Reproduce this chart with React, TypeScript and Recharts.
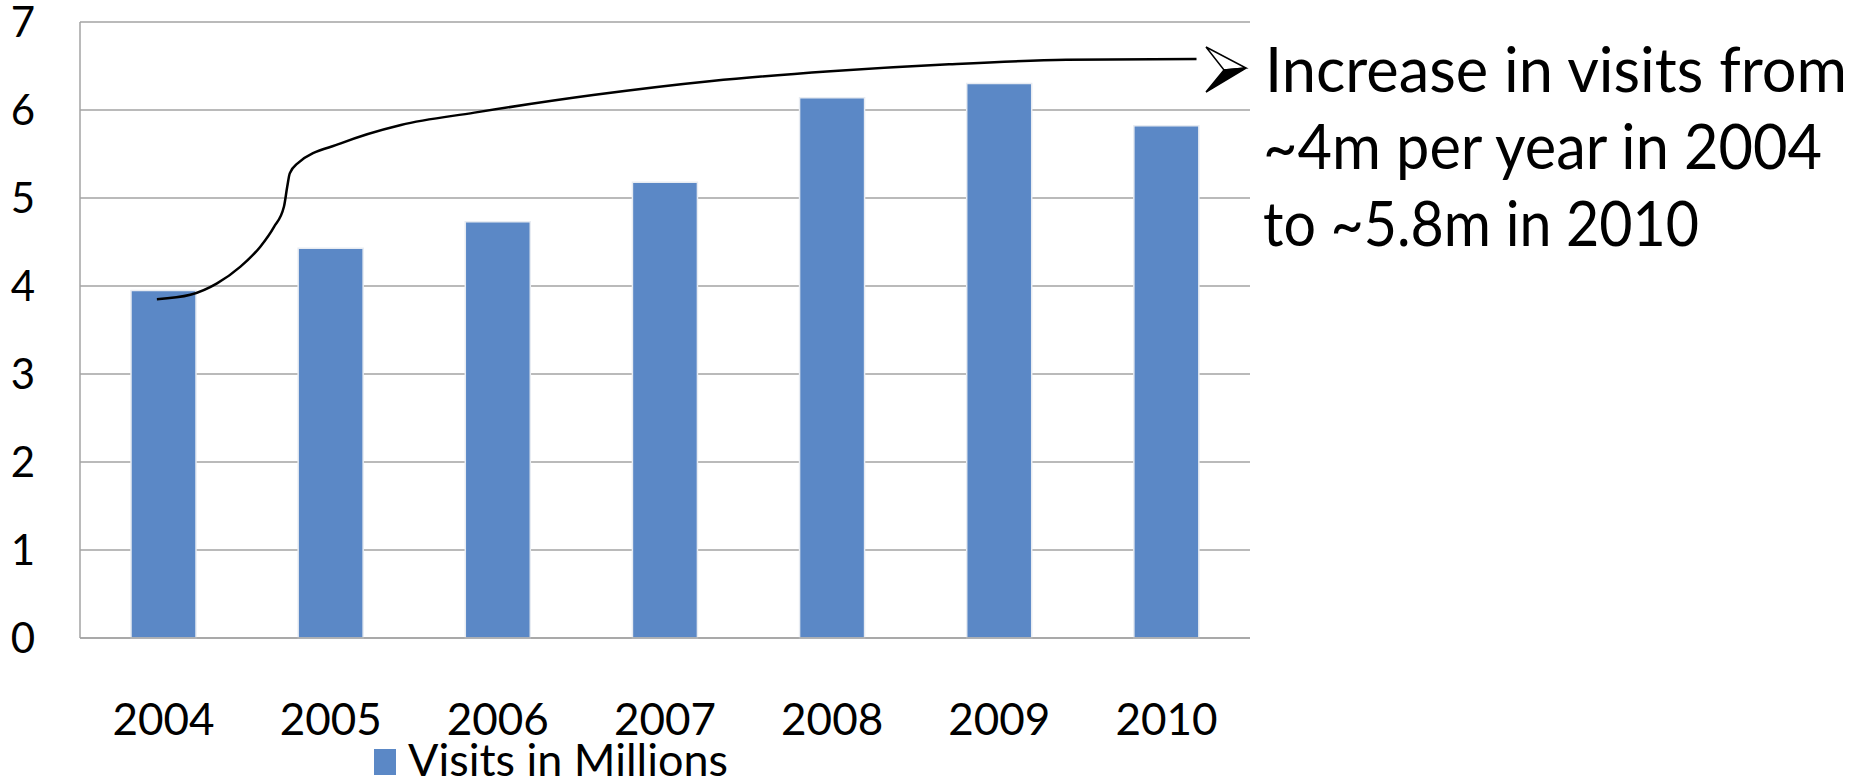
import { Bar, CartesianGrid, ComposedChart, Legend, Line, XAxis, YAxis } from "recharts";

const years = ["2004", "2005", "2006", "2007", "2008", "2009", "2010"];
const visitsInMillions = [3.95, 4.43, 4.73, 5.18, 6.14, 6.3, 5.82];
const yTicks = [0, 1, 2, 3, 4, 5, 6, 7];

// hand-drawn callout curve (x in category units, y in millions)
const calloutX = [0.46, 0.66, 0.82, 0.96, 1.08, 1.16, 1.22, 1.24, 1.255, 1.3, 1.56, 1.92, 2.36, 3.07, 3.78, 4.49, 5.2, 5.9, 6.68];
const calloutY = [3.85, 3.9, 4.03, 4.22, 4.45, 4.67, 4.9, 5.13, 5.28, 5.39, 5.62, 5.83, 5.97, 6.17, 6.33, 6.44, 6.52, 6.57, 6.58];

const calloutLines = ["Increase in visits from", "~4m per year in 2004", "to ~5.8m in 2010"];
const calloutWidths = [582, 559, 436];

const BAR_COLOR = "#5b88c6";
const GRID_COLOR = "#a3a3a3";
const FONT = "Lato, 'Open Sans', sans-serif";

const data = years.map((year, i) => ({ year, visits: visitsInMillions[i] }));
const curveData = calloutX.map((x, i) => ({ x, y: calloutY[i] }));

function LegendContent(props: any) {
  const items = (props.payload ?? []).filter((item: any) => item.type !== "none");
  return (
    <div style={{ display: "flex", alignItems: "center" }}>
      {items.map((item: any) => (
        <div key={item.value} style={{ display: "flex", alignItems: "center" }}>
          <span style={{ display: "inline-block", width: 22, height: 26, background: BAR_COLOR, marginRight: 12 }} />
          <svg width={330} height={36} style={{ overflow: "visible" }}>
            <text x={0} y={32} fontFamily={FONT} fontSize={44} fill="#000" textLength={320} lengthAdjust="spacingAndGlyphs">
              {item.value}
            </text>
          </svg>
        </div>
      ))}
    </div>
  );
}

export default function App() {
  return (
    <div style={{ position: "absolute", left: 0, top: 0, width: 1854, height: 781, background: "#fff" }}>
      <ComposedChart
        width={1854}
        height={781}
        data={data}
        margin={{ top: 22, right: 604, bottom: 0, left: 0 }}
      >
        <CartesianGrid vertical={false} stroke={GRID_COLOR} strokeWidth={1.5} />
        <XAxis
          dataKey="year"
          height={143}
          tickLine={false}
          axisLine={{ stroke: GRID_COLOR, strokeWidth: 1.5 }}
          tickMargin={60}
          tick={{ fontFamily: FONT, fontSize: 44, fill: "#000" }}
        />
        <XAxis xAxisId="curve" type="number" dataKey="x" domain={[0, 7]} allowDataOverflow hide />
        <YAxis
          width={80}
          domain={[0, 7]}
          ticks={yTicks}
          interval={0}
          tickLine={false}
          axisLine={{ stroke: GRID_COLOR, strokeWidth: 1.5 }}
          tickMargin={51}
          tick={{ fontFamily: FONT, fontSize: 42, fill: "#000", textAnchor: "middle" }}
        />
        <Bar
          dataKey="visits"
          name="Visits in Millions"
          fill={BAR_COLOR}
          stroke="#e8ecf2"
          strokeWidth={1.5}
          barSize={65}
          isAnimationActive={false}
        />
        <Line
          xAxisId="curve"
          data={curveData}
          dataKey="y"
          type="monotone"
          stroke="#000"
          strokeWidth={2.5}
          dot={false}
          legendType="none"
          isAnimationActive={false}
        />
        <Legend
          layout="horizontal"
          verticalAlign="middle"
          align="center"
          content={<LegendContent />}
          wrapperStyle={{ left: 374, top: 744, width: 420, height: 36 }}
        />
      </ComposedChart>
      <svg
        width={1854}
        height={781}
        style={{ position: "absolute", left: 0, top: 0, pointerEvents: "none" }}
      >
        {/* arrow bullet in front of the callout */}
        <path d="M1206,47 L1246,68 L1224,70 Z" fill="#fff" stroke="#000" strokeWidth={1.5} strokeLinejoin="miter" />
        <path d="M1224,70 L1246,68 L1206,92 Z" fill="#000" stroke="#000" strokeWidth={1.5} strokeLinejoin="miter" />
        {calloutLines.map((line, i) => (
          <text
            key={line}
            x={i === 0 ? 1265 : 1263}
            y={92 + i * 77}
            fontFamily={FONT}
            fontSize={62}
            fill="#000"
            textLength={calloutWidths[i]}
            lengthAdjust="spacingAndGlyphs"
          >
            {line}
          </text>
        ))}
      </svg>
    </div>
  );
}
